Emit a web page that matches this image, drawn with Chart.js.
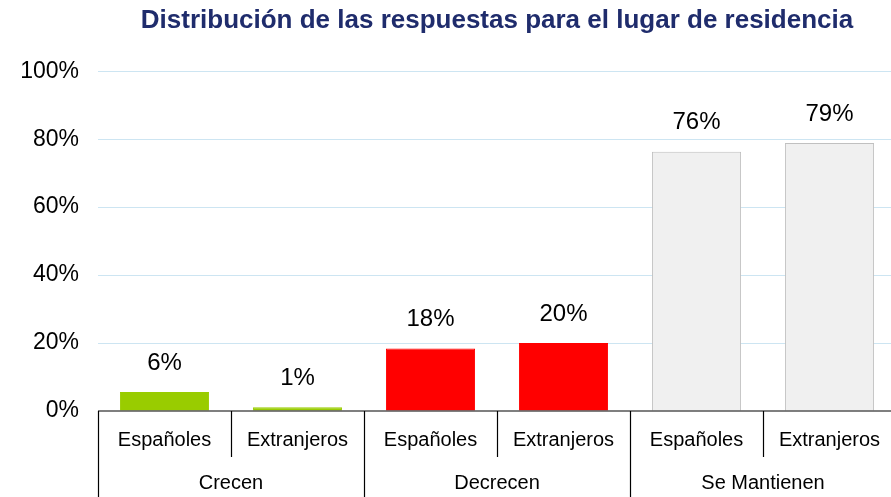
<!DOCTYPE html>
<html>
<head>
<meta charset="utf-8">
<script src="https://cdn.jsdelivr.net/npm/chart.js@4.4.0/dist/chart.umd.min.js"></script>
<style>
  html, body { margin: 0; padding: 0; background: #fff; overflow: hidden; }
  #wrap { width: 900px; height: 497px; position: relative; }
</style>
</head>
<body>
<div id="wrap"><canvas id="grafica"></canvas></div>
<script>
// datos
const subLabels = ['Españoles', 'Extranjeros', 'Españoles', 'Extranjeros', 'Españoles', 'Extranjeros'];
const groupLabels = ['Crecen', 'Decrecen', 'Se Mantienen'];
const groupSizes = [2, 2, 2];
const values = [5.6, 1.1, 18.4, 20.0, 76.3, 78.9];
const shownLabels = ['6%', '1%', '18%', '20%', '76%', '79%'];
const yMax = 100;
const yStep = 20;

const fillColors = ['#99cc00', '#99cc00', '#ff0000', '#ff0000', '#f0f0f0', '#f0f0f0'];
const lineColors = ['#99cc00', '#99cc00', '#ff0000', '#ff0000', '#c0c0c0', '#c0c0c0'];

const font = 'Liberation Sans, Arial, sans-serif';

// etiquetas encima de cada barra
const valueLabels = {
  id: 'valueLabels',
  afterDatasetsDraw(chart) {
    const { ctx } = chart;
    const meta = chart.getDatasetMeta(0);
    ctx.save();
    ctx.font = `24px ${font}`;
    ctx.fillStyle = '#000';
    ctx.textAlign = 'center';
    ctx.textBaseline = 'middle';
    meta.data.forEach((bar, i) => {
      ctx.fillText(shownLabels[i], bar.x, bar.y - 29);
    });
    ctx.restore();
  },
};

// tabla de categorias bajo el eje
const categoryTable = {
  id: 'categoryTable',
  afterDraw(chart) {
    const { ctx, chartArea } = chart;
    const xs = chart.scales.x;
    const step = (chartArea.right - chartArea.left) / subLabels.length;
    const top = chartArea.bottom;
    const rowH = 46;
    const bottom = chart.height;
    ctx.save();
    ctx.strokeStyle = '#000';
    ctx.lineWidth = 1.2;
    ctx.beginPath();
    ctx.moveTo(chartArea.left, top);
    ctx.lineTo(chartArea.right, top);
    ctx.stroke();

    ctx.font = `20px ${font}`;
    ctx.fillStyle = '#000';
    ctx.textAlign = 'center';
    ctx.textBaseline = 'middle';
    subLabels.forEach((lab, i) => {
      ctx.fillText(lab, xs.getPixelForValue(i), top + 29);
    });

    let idx = 0;
    const groupEdges = [0];
    groupSizes.forEach((n) => { idx += n; groupEdges.push(idx); });
    for (let i = 0; i <= subLabels.length; i++) {
      const x = Math.round(chartArea.left + step * i) + 0.5;
      ctx.beginPath();
      ctx.moveTo(x, top);
      ctx.lineTo(x, groupEdges.includes(i) ? bottom : top + rowH);
      ctx.stroke();
    }
    groupLabels.forEach((lab, g) => {
      const cx = chartArea.left + step * (groupEdges[g] + groupEdges[g + 1]) / 2;
      ctx.fillText(lab, cx, top + 72);
    });
    ctx.restore();
  },
};

new Chart(document.getElementById('grafica'), {
  type: 'bar',
  data: {
    labels: subLabels,
    datasets: [{
      data: values,
      backgroundColor: fillColors,
      borderColor: lineColors,
      borderWidth: 1,
      categoryPercentage: 1,
      barPercentage: 0.67,
    }],
  },
  options: {
    responsive: true,
    maintainAspectRatio: false,
    animation: false,
    layout: { padding: { top: 0, right: 4, bottom: 86, left: 0 } },
    plugins: {
      legend: { display: false },
      tooltip: { enabled: false },
      title: {
        display: true,
        fullSize: false,
        text: 'Distribución de las respuestas para el lugar de residencia',
        color: '#1f2c6c',
        font: { family: font, size: 26, weight: 'bold' },
        padding: { top: 5, bottom: 35 },
      },
    },
    scales: {
      x: { display: false },
      y: {
        min: 0,
        max: yMax,
        afterFit(scale) { scale.width = 98; },
        border: { display: false },
        grid: {
          drawTicks: false,
          color: (c) => (c.tick.value === 0 ? 'rgba(0,0,0,0)' : '#cde5f2'),
        },
        ticks: {
          stepSize: yStep,
          padding: 19,
          color: '#000',
          font: { family: font, size: 23 },
          callback: (v) => `${v}%`,
        },
      },
    },
  },
  plugins: [valueLabels, categoryTable],
});
</script>
</body>
</html>
